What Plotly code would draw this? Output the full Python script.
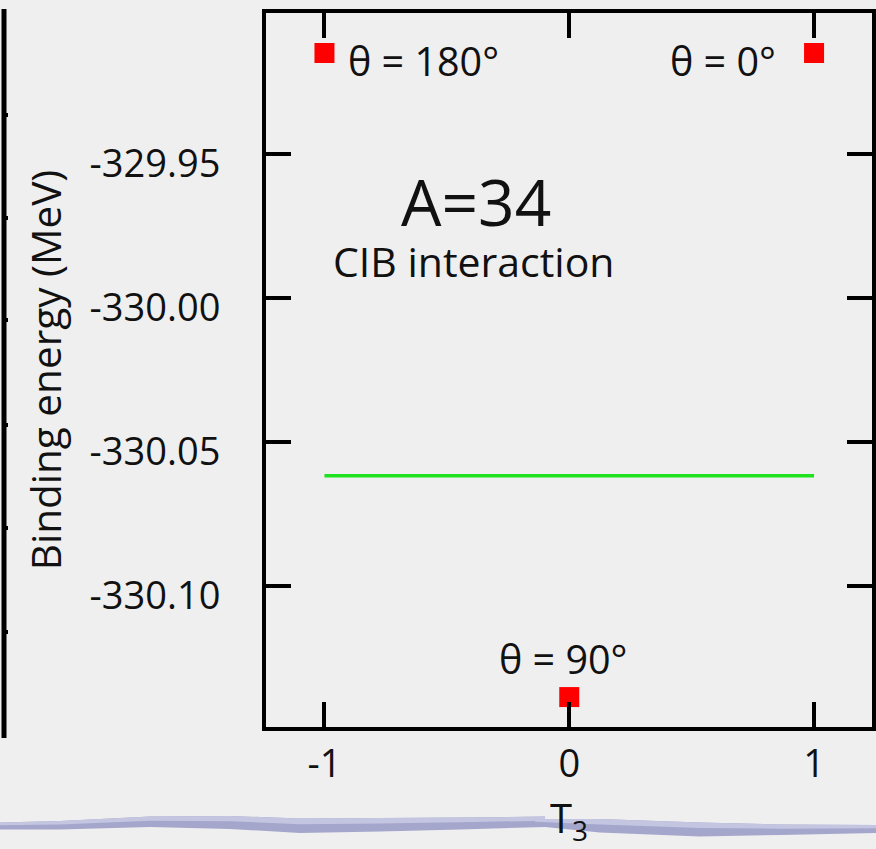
import plotly.graph_objects as go

# Binding energies of the A=34 isobaric states vs. T3 (CIB interaction)
t3_points = [-1, 0, 1]
energy_points = [-329.9149, -330.1387, -329.9149]
angle_labels = ["θ = 180°", "θ = 90°", "θ = 0°"]

# Reference level (green line) across the isospin multiplet
t3_line = [-1, 1]
energy_line = [-330.0618, -330.0618]

x_ticks = [-1, 0, 1]
x_tick_text = ["-1", "0", "1"]
y_ticks = [-329.95, -330.00, -330.05, -330.10]
y_tick_text = ["-329.95", "-330.00", "-330.05", "-330.10"]

W, H = 876, 849
ML, MR, MT, MB = 266, 4, 13, 122
PW, PH = W - ML - MR, H - MT - MB
FONT = "Open Sans, Noto Sans, sans-serif"


def px(x):
    return (x - ML) / PW


def py(y):
    return (H - MB - y) / PH


fig = go.Figure()

fig.add_trace(go.Scatter(
    x=t3_line, y=energy_line, mode="lines",
    line=dict(color="#1ee21e", width=3.5),
    showlegend=False, hoverinfo="skip",
))
fig.add_trace(go.Scatter(
    x=t3_points, y=energy_points, mode="markers",
    marker=dict(symbol="square", size=20, color="#ff0000", line=dict(width=0)),
    showlegend=False,
))

# angle labels beside each point
label_specs = {
    "θ = 180°": dict(xanchor="left", xshift=22, yshift=-8),
    "θ = 90°": dict(xanchor="center", xshift=-6, yshift=38),
    "θ = 0°": dict(xanchor="right", xshift=-36, yshift=-8),
}
annotations = []
for t, e, lab in zip(t3_points, energy_points, angle_labels):
    spec = label_specs[lab]
    annotations.append(dict(
        x=t, y=e, xref="x", yref="y", text=lab, showarrow=False,
        font=dict(family=FONT, size=39.5, color="#111111"),
        yanchor="middle", **spec,
    ))

annotations.append(dict(
    x=-0.380, y=-329.9665, xref="x", yref="y", text="A=34", showarrow=False,
    font=dict(family=FONT, size=64, color="#111111"), xanchor="center", yanchor="middle",
))
annotations.append(dict(
    x=-0.388, y=-329.9872, xref="x", yref="y", text="CIB interaction", showarrow=False,
    font=dict(family=FONT, size=41, color="#111111"), xanchor="center", yanchor="middle",
))

shapes = []
# neighbouring panel's frame at the left edge
shapes.append(dict(type="line", xref="paper", yref="paper",
                   x0=px(4), x1=px(4), y0=py(9), y1=py(738),
                   line=dict(color="black", width=5)))
for yy in [115, 218, 320, 425, 528, 632]:
    shapes.append(dict(type="line", xref="paper", yref="paper",
                       x0=px(4), x1=px(8), y0=py(yy), y1=py(yy),
                       line=dict(color="black", width=4)))


def band(top, bottom):
    pts = [(px(x), py(y)) for x, y in top] + [(px(x), py(y)) for x, y in reversed(bottom)]
    d = "M " + " L ".join(f"{a:.5f},{b:.5f}" for a, b in pts) + " Z"
    return d


# decorative slide rule near the bottom
wave_top_a = [(-2, 822.5), (60, 821), (150, 816.5), (230, 816), (300, 818.5), (380, 818), (460, 817.5), (545, 816.5)]
wave_bot_a = [(-2, 829.5), (60, 829.5), (150, 827), (230, 829), (300, 833), (380, 831.5), (460, 829.5), (545, 827)]
wave_top_b = [(535, 819), (600, 819), (700, 822.5), (780, 824.5), (880, 825)]
wave_bot_b = [(535, 826), (600, 832.5), (700, 836.5), (780, 835), (880, 833)]
for top, bot in [(wave_top_a, wave_bot_a), (wave_top_b, wave_bot_b)]:
    shapes.append(dict(type="path", xref="paper", yref="paper", path=band(top, bot),
                       fillcolor="#a4a6cb", line=dict(width=0), layer="below"))
    mid = [(x, y + 0.4 * (yb - y)) for (x, y), (_, yb) in zip(top, bot)]
    shapes.append(dict(type="path", xref="paper", yref="paper", path=band(top, mid),
                       fillcolor="#c3c5e1", line=dict(width=0), layer="below"))

axis_common = dict(
    showline=True, linecolor="black", linewidth=4, mirror="ticks",
    ticks="inside", ticklen=25, tickwidth=4, tickcolor="black",
    showgrid=False, zeroline=False,
    tickfont=dict(family=FONT, size=38, color="#111111"),
)

fig.update_layout(
    width=W, height=H,
    margin=dict(l=ML, r=MR, t=MT, b=MB, autoexpand=False),
    paper_bgcolor="#efefef", plot_bgcolor="rgba(0,0,0,0)",
    showlegend=False,
    xaxis=dict(
        range=[-1.2388, 1.2367], tickmode="array", tickvals=x_ticks, ticktext=x_tick_text,
        ticklabelstandoff=0,
        title=dict(text="T<sub>3</sub>", font=dict(family=FONT, size=40, color="#111111"), standoff=30),
        **axis_common,
    ),
    yaxis=dict(
        range=[-330.1491, -329.901], tickmode="array", tickvals=y_ticks, ticktext=y_tick_text,
        ticklabelstandoff=34, ticklabelshift=10,
        title=dict(text="Binding energy (MeV)", font=dict(family=FONT, size=40.5, color="#111111"), standoff=16),
        **axis_common,
    ),
    annotations=annotations,
    shapes=shapes,
)

fig.write_html("out.html")
